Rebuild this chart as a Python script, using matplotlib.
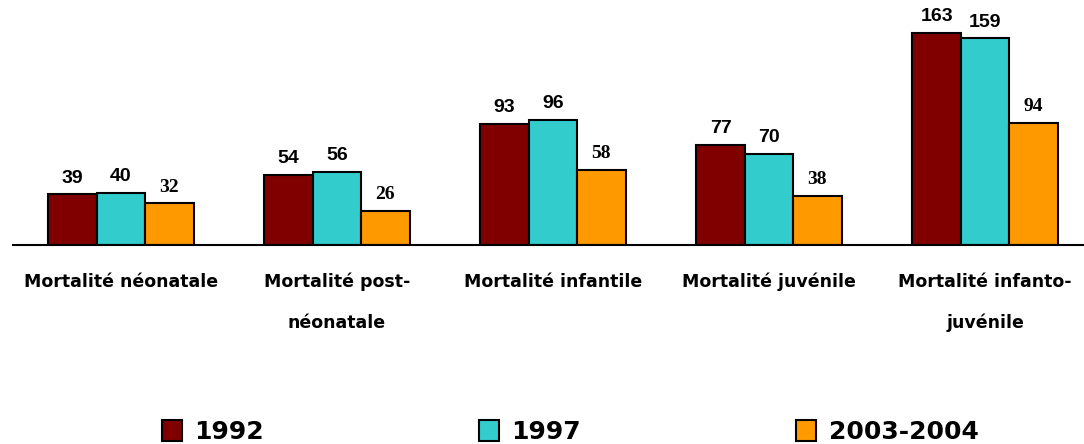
import numpy as np
import matplotlib
matplotlib.use('Agg')
import matplotlib.pyplot as plt
from matplotlib.patches import Patch

categories = ['Mortalité néonatale', 'Mortalité post-\nnéonatale', 'Mortalité infantile',
              'Mortalité juvénile', 'Mortalité infanto-\njuvénile']
series = ['1992', '1997', '2003-2004']
v1992 = [39, 54, 93, 77, 163]
v1997 = [40, 56, 96, 70, 159]
v2003 = [32, 26, 58, 38, 94]
colors = ['#800000', '#33CCCC', '#FF9900']

fig = plt.figure(figsize=(10.84, 4.44), dpi=100)
ax = fig.add_axes([13/1084, 199/444, 1080/1084, 245/444])

x = np.arange(len(categories))
w = 0.224
vals = [v1992, v1997, v2003]
for i, (v, c) in enumerate(zip(vals, colors)):
    pos = x + (i - 1) * w
    ax.bar(pos, v, width=w, color=c, edgecolor='black', linewidth=1.5, zorder=2)
    for p, val in zip(pos, v):
        if i < 2:
            ax.text(p, val + 6, str(val), ha='center', va='bottom', fontsize=14,
                    fontweight='bold', family='Liberation Sans')
        else:
            ax.text(p, val + 6, str(val), ha='center', va='bottom', fontsize=14,
                    fontweight='bold', family='Liberation Serif')

ax.set_xlim(-0.5, 4.5)
ax.set_ylim(0, 188.5)
ax.set_yticks([])
ax.set_xticks(x)
ax.set_xticklabels(categories, fontsize=12.5, fontweight='bold', linespacing=2.6)
ax.tick_params(axis='x', length=0, pad=20)
for s in ['top', 'right', 'left']:
    ax.spines[s].set_visible(False)
ax.spines['bottom'].set_linewidth(1.5)

handles = [Patch(facecolor=c, edgecolor='black', linewidth=1.5) for c in colors]
fig.legend(handles, series, loc='center', bbox_to_anchor=(0.526, 0.027), ncol=3,
           frameon=False, prop={'size': 18, 'weight': 'bold'}, columnspacing=8.6,
           handlelength=0.8, handleheight=0.9, handletextpad=0.5)

fig.savefig('out.png', dpi=100)
